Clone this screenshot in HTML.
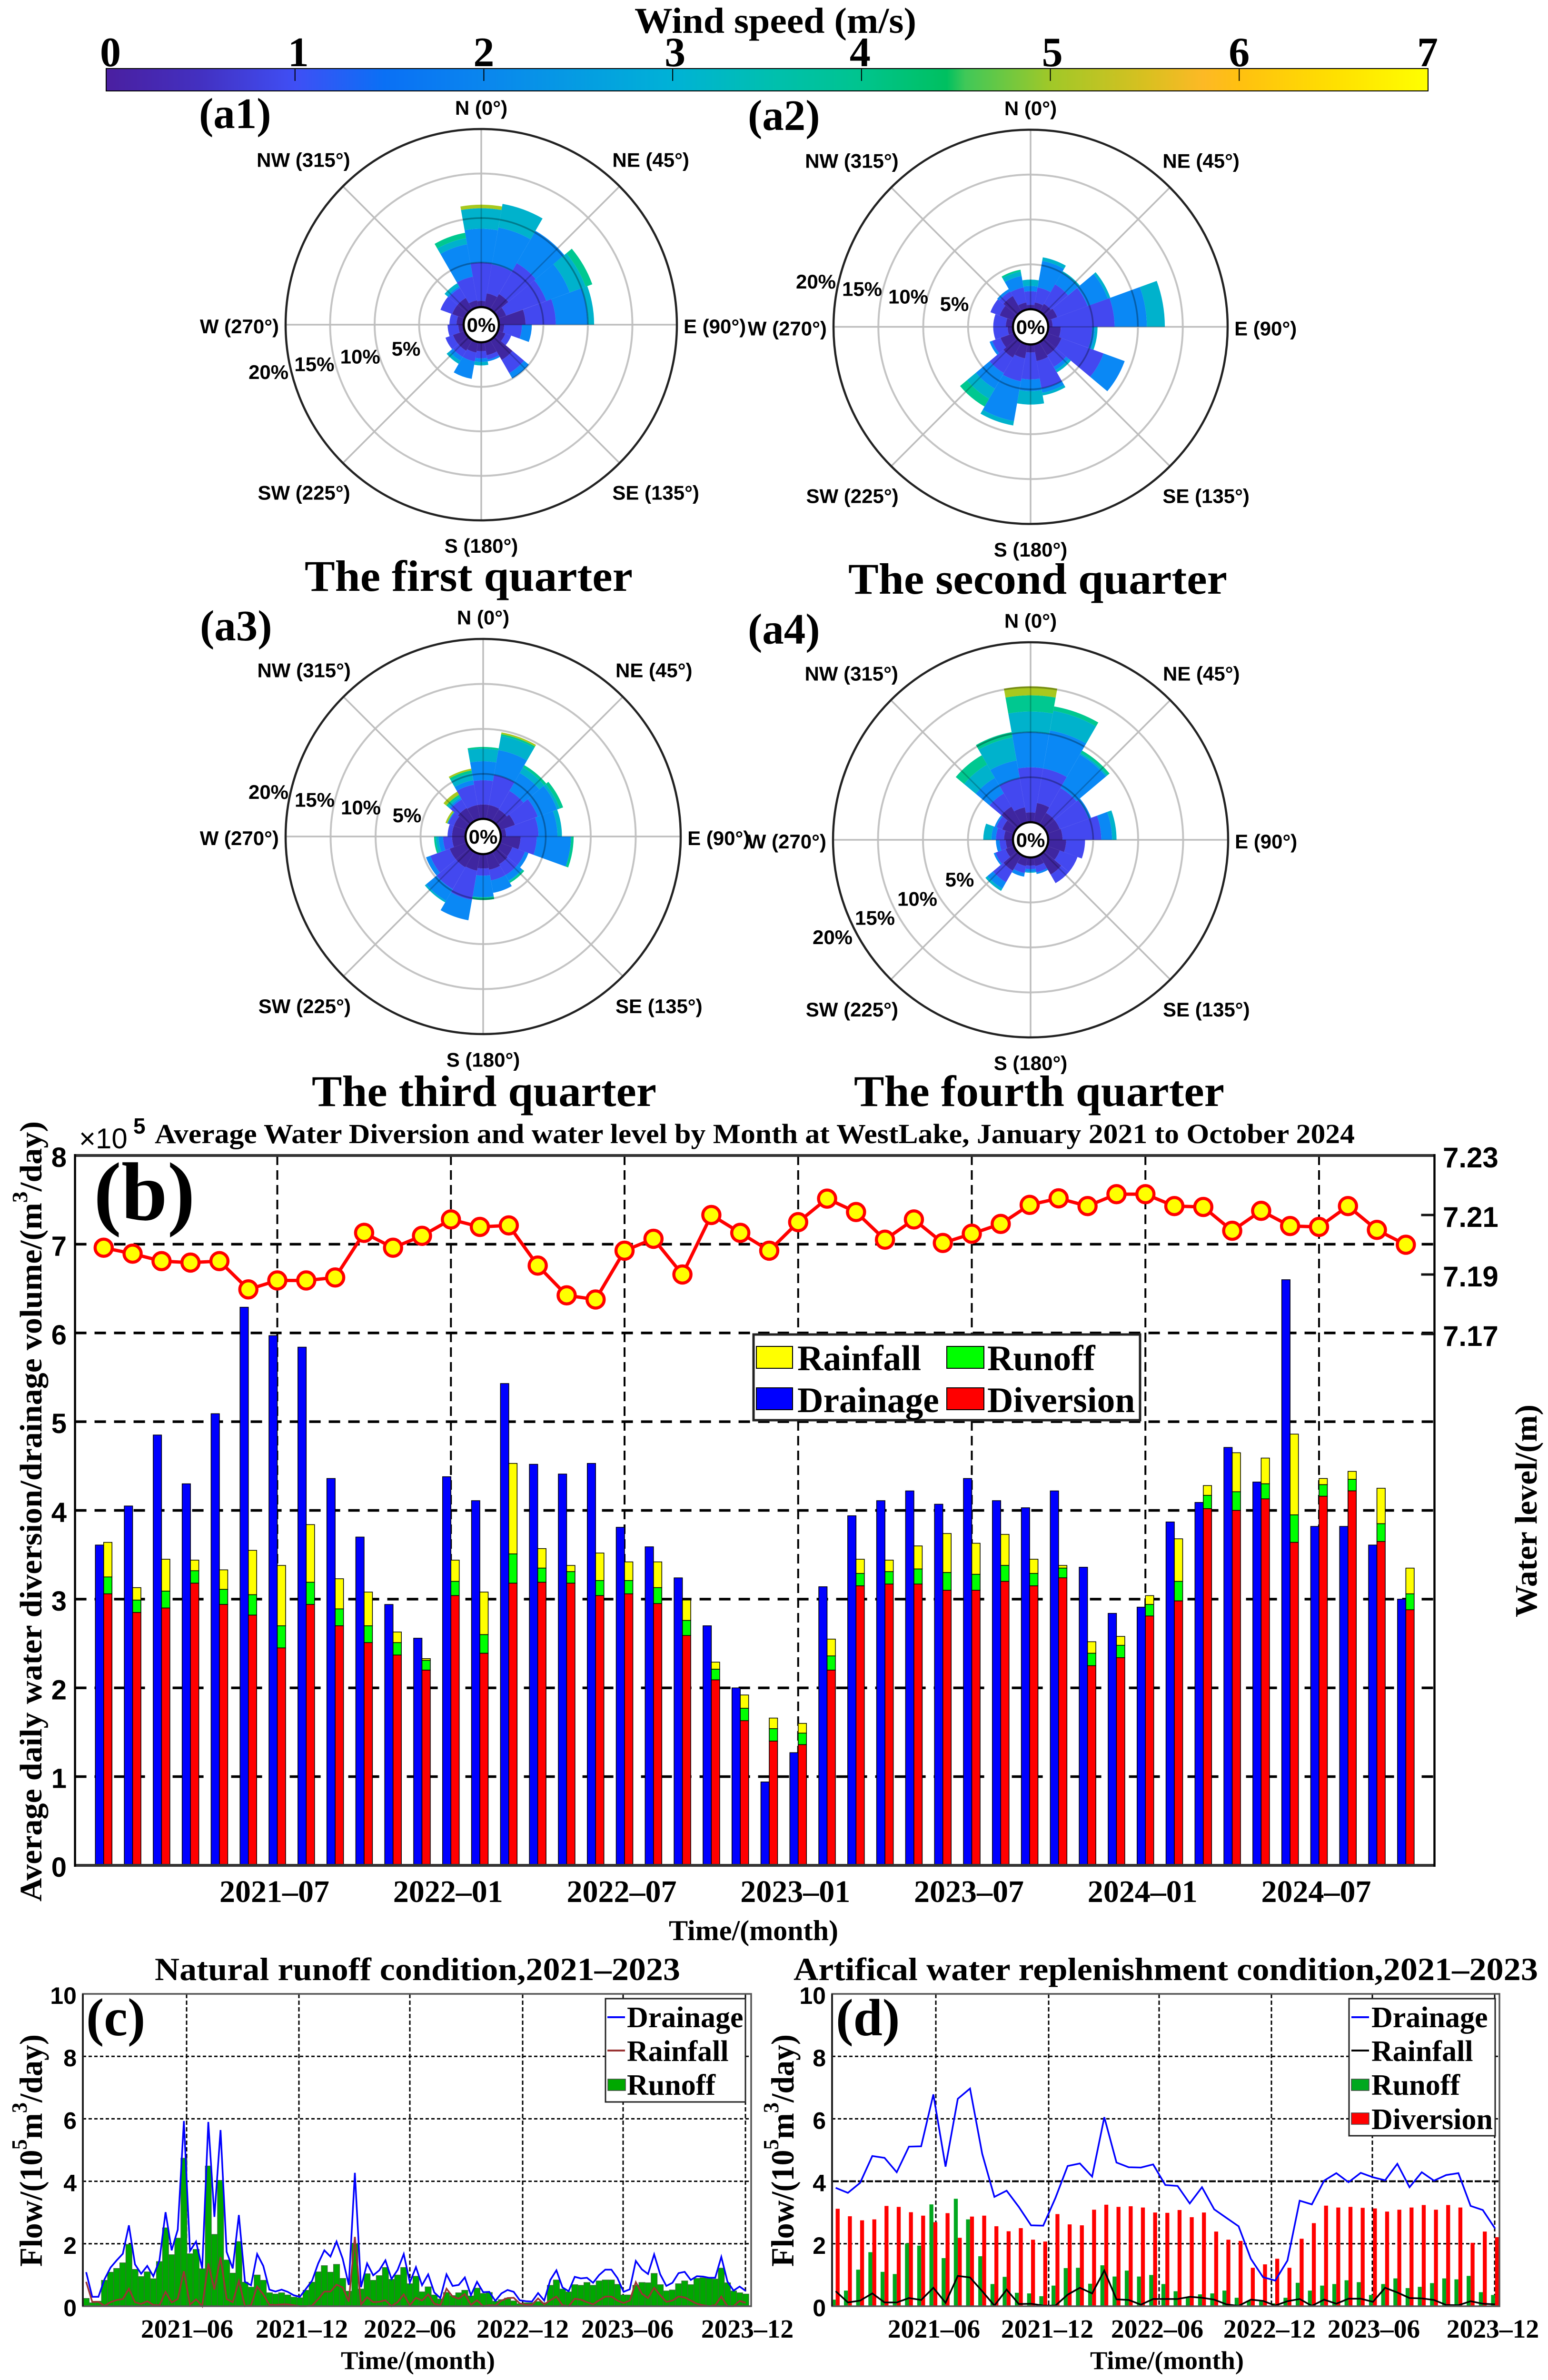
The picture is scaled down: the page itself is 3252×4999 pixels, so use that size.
<!DOCTYPE html>
<html lang="en">
<head>
<meta charset="utf-8">
<title>Wind roses and water balance at West Lake</title>
<style>
html,body{margin:0;padding:0;background:#fff;}
svg{display:block;}
.sf{font-family:"Liberation Serif",serif;font-weight:bold;fill:#000;}
.ss{font-family:"Liberation Sans",sans-serif;font-weight:bold;fill:#000;}
.sr{font-family:"Liberation Sans",sans-serif;font-weight:normal;fill:#000;}
</style>
</head>
<body>
<svg id="fig" xmlns="http://www.w3.org/2000/svg" width="3252" height="4999" viewBox="0 0 3252 4999">
<defs>
<linearGradient id="cbGrad" x1="0" x2="1" y1="0" y2="0">
<stop offset="0" stop-color="#4a1fa0"/>
<stop offset="0.07" stop-color="#4330c0"/>
<stop offset="0.143" stop-color="#3f4ff5"/>
<stop offset="0.21" stop-color="#0a70f5"/>
<stop offset="0.286" stop-color="#0a86ee"/>
<stop offset="0.429" stop-color="#00b2d6"/>
<stop offset="0.5" stop-color="#00bfb0"/>
<stop offset="0.571" stop-color="#00c48e"/>
<stop offset="0.636" stop-color="#00c060"/>
<stop offset="0.65" stop-color="#40c858"/>
<stop offset="0.714" stop-color="#a0c828"/>
<stop offset="0.786" stop-color="#d8c020"/>
<stop offset="0.83" stop-color="#fdb925"/>
<stop offset="0.857" stop-color="#ffc010"/>
<stop offset="0.93" stop-color="#ffe000"/>
<stop offset="1" stop-color="#ffff00"/>
</linearGradient>
</defs>
<rect x="0" y="0" width="3252" height="4999" fill="#fff"/>

<g id="colorbar">
<text class="sf" x="1333" y="69" font-size="76" textLength="592" lengthAdjust="spacingAndGlyphs">Wind speed (m/s)</text>
<rect x="223" y="144" width="2777" height="47" fill="url(#cbGrad)" stroke="#000" stroke-width="2"/>
</g>

<text class="sf" x="418" y="269" font-size="91">(a1)</text>
<text class="sf" x="1571" y="273" font-size="91">(a2)</text>
<text class="sf" x="420" y="1345" font-size="91">(a3)</text>
<text class="sf" x="1571" y="1352" font-size="91">(a4)</text>
<text class="sf" x="640" y="1241" font-size="92" textLength="689" lengthAdjust="spacingAndGlyphs">The first quarter</text>
<text class="sf" x="1782" y="1247" font-size="92" textLength="796" lengthAdjust="spacingAndGlyphs">The second quarter</text>
<text class="sf" x="655" y="2323" font-size="92" textLength="724" lengthAdjust="spacingAndGlyphs">The third quarter</text>
<text class="sf" x="1794" y="2323" font-size="92" textLength="778" lengthAdjust="spacingAndGlyphs">The fourth quarter</text>

<g id="roses"></g>

<g id="panelB"></g>
<text class="sf" x="325" y="2401" font-size="58" textLength="2521" lengthAdjust="spacingAndGlyphs">Average Water Diversion and water level by Month at WestLake, January 2021 to October 2024</text>
<text class="sr" x="166" y="2412" font-size="60">×10</text>
<text class="ss" x="280" y="2381" font-size="46">5</text>
<text class="sf" x="197" y="2562" font-size="174">(b)</text>
<text class="sf" font-size="66" transform="translate(87 3994) rotate(-90)" textLength="1639" lengthAdjust="spacingAndGlyphs">Average daily water diversion/drainage volume/(m<tspan font-size="46" dy="-30">3</tspan><tspan dy="30">/day)</tspan></text>
<text class="sf" font-size="66" transform="translate(3228 3397) rotate(-90)" textLength="447" lengthAdjust="spacingAndGlyphs">Water level/(m)</text>
<text class="sf" x="1405" y="4075" font-size="60" textLength="356" lengthAdjust="spacingAndGlyphs">Time/(month)</text>

<g>
<rect x="1583" y="2803" width="812" height="180" fill="#fff" stroke="#222" stroke-width="5"/>
<rect x="1589" y="2828" width="76" height="46" fill="#ffff00" stroke="#000" stroke-width="2"/>
<text class="sf" x="1675" y="2878" font-size="75.5">Rainfall</text>
<rect x="1989" y="2828" width="78" height="46" fill="#00ff00" stroke="#000" stroke-width="2"/>
<text class="sf" x="2074" y="2878" font-size="75.5">Runoff</text>
<rect x="1589" y="2915" width="76" height="46" fill="#0000ff" stroke="#000" stroke-width="2"/>
<text class="sf" x="1675" y="2966" font-size="75.5">Drainage</text>
<rect x="1989" y="2915" width="78" height="46" fill="#ff0000" stroke="#000" stroke-width="2"/>
<text class="sf" x="2074" y="2966" font-size="75.5">Diversion</text>
</g>

<g id="panelC"></g>
<text class="sf" x="325" y="4159" font-size="68" textLength="1104" lengthAdjust="spacingAndGlyphs">Natural runoff condition,2021–2023</text>
<text class="sf" x="181" y="4275" font-size="112">(c)</text>
<text class="sf" font-size="68" transform="translate(88 4761) rotate(-90)" textLength="488" lengthAdjust="spacingAndGlyphs">Flow/(10<tspan font-size="46" dy="-32">5</tspan><tspan dy="32">m</tspan><tspan font-size="46" dy="-32">3</tspan><tspan dy="32">/day)</tspan></text>
<text class="sf" x="716" y="4976" font-size="54.5" textLength="324" lengthAdjust="spacingAndGlyphs">Time/(month)</text>
<g>
<rect x="1272" y="4198" width="294" height="217" fill="#fff" stroke="#222" stroke-width="3"/>
<line x1="1276" x2="1313" y1="4237" y2="4237" stroke="#0000ff" stroke-width="4"/>
<text class="sf" x="1317" y="4258" font-size="62">Drainage</text>
<line x1="1276" x2="1313" y1="4307" y2="4307" stroke="#993333" stroke-width="4"/>
<text class="sf" x="1317" y="4329" font-size="62">Rainfall</text>
<rect x="1277" y="4367" width="37" height="24" fill="#00a800" stroke="#444" stroke-width="1.5"/>
<text class="sf" x="1317" y="4400" font-size="62">Runoff</text>
</g>

<g id="panelD"></g>
<text class="sf" x="1667" y="4159" font-size="68" textLength="1564" lengthAdjust="spacingAndGlyphs">Artifical water replenishment condition,2021–2023</text>
<text class="sf" x="1756" y="4275" font-size="110">(d)</text>
<text class="sf" font-size="68" transform="translate(1667 4761) rotate(-90)" textLength="488" lengthAdjust="spacingAndGlyphs">Flow/(10<tspan font-size="46" dy="-32">5</tspan><tspan dy="32">m</tspan><tspan font-size="46" dy="-32">3</tspan><tspan dy="32">/day)</tspan></text>
<text class="sf" x="2290" y="4976" font-size="54.5" textLength="323" lengthAdjust="spacingAndGlyphs">Time/(month)</text>
<g>
<rect x="2834" y="4198" width="307" height="288" fill="#fff" stroke="#222" stroke-width="3"/>
<line x1="2839" x2="2876" y1="4237" y2="4237" stroke="#0000ff" stroke-width="4"/>
<text class="sf" x="2881" y="4258" font-size="62">Drainage</text>
<line x1="2839" x2="2876" y1="4307" y2="4307" stroke="#000" stroke-width="4"/>
<text class="sf" x="2881" y="4329" font-size="62">Rainfall</text>
<rect x="2839" y="4367" width="37" height="24" fill="#00a81f" stroke="#444" stroke-width="1.5"/>
<text class="sf" x="2881" y="4400" font-size="62">Runoff</text>
<rect x="2839" y="4438" width="37" height="24" fill="#ff0000" stroke="#444" stroke-width="1.5"/>
<text class="sf" x="2881" y="4472" font-size="62">Diversion</text>
</g>
</svg>

<script>
// ---------- colorbar ----------
const cbTicks = ["0","1","2","3","4","5","6","7"];

// ---------- wind roses: cumulative frequency (%) per speed bin, per 20-degree sector ----------
const sectorAngles = [0,20,40,60,80,100,120,140,160,180,200,220,240,260,280,300,320,340];
const speedBinColors = ["#3f26a0","#4348f0","#0a88f5","#00b2cc","#00c890","#a8c81e"];
const roseQ1 = [
 [.7,5.0,8.8,11.1,11.1,11.5],[1.6,4.9,9.1,11.8],[2.0,6.0,10.2],[1.0,5.8,8.6,10.5,11.3],[3.0,6.4,10.0,10.7],
 [.6,2.6,3.7],[.9,1.6],[2.6,4.3,5.0],[1.5,2.0,2.2],[1.0,1.8,2.2,2.6],[1.2,2.2,4.2],[1.4,2.2,2.7,3.1],
 [1.4,2.3],[.6,1.8],[.8,1.6],[1.5,2.9],[1.5,2.8,3.0,3.4],[.8,3.5,7.2,7.9,8.5]
];
const roseQ2 = [
 [.5,2.0,2.6,3.3],[.8,2.5,5.5,5.9],[1.0,3.5,5.0,5.2],[1.2,4.8,7.2,7.5],[.5,7.4,11.0,13.0],
 [1.4,4.9,5.2,5.5],[1.7,6.7,9.2],[1.7,3.2,3.6,3.9],[1.9,5.0,5.5,5.8],[.9,3.9,5.2,6.7],[1.6,4.2,8.7,9.2],[2.0,4.0,6.0,7.3,8.3],
 [1.6,2.6,2.9],[.6,2.2],[.8,2.2],[1.7,2.8],[2.0,2.6,2.9],[.8,2.5,3.8,4.3,4.5]
];
const roseQ3 = [
 [1.6,4.3,6.4,7.8,8.0],[1.6,5.0,7.8,9.4,9.6,9.8],[1.5,3.9,6.2,6.9,7.2],[1.8,4.5,6.8,7.1,7.5],[.6,4.2,6.3,6.8],
 [2.2,4.0,7.8,7.8,8.1],[1.5,3.0,3.4],[1.6,3.0,3.7,3.8,4.0],[1.8,3.0,4.4],[1.6,2.4,4.8,4.8,5.1],[1.9,5.2,7.5],[2.0,4.8,6.3,6.5],
 [2.0,4.3,4.8],[1.5,2.5,3.0,3.3,3.5],[1.5,2.0],[1.5,2.2,2.2,2.3,2.3,2.5],[1.7,2.8,3.0,3.2,3.4,3.8],[1.6,3.9,4.4,5.2,5.5,5.7]
];
const roseQ4 = [
 [1.1,6.1,10.0,12.3,14.1,15.1],[2.2,6.1,10.4,12.6,13.1],[1.5,4.7,9.0,9.2,9.5],[1.5,4.9,5.2],[1.6,5.9,7.1,7.6],
 [2.0,4.1],[1.5,3.6],[2.5,3.6],[1.0,1.7,1.9],[.9,1.3,1.6,1.7],[1.0,1.8,2.2],[2.0,3.5,4.3,4.6],
 [1.0,2.2,2.4],[.8,1.5,1.9],[1.0,1.9,2.4,3.3],[1.4,2.1,2.3],[2.3,4.0,6.0,7.7,8.9],[1.7,5.0,7.0,9.6,10.2]
];
const dirLabels = ["N (0°)","NE (45°)","E (90°)","SE (135°)","S (180°)","SW (225°)","W (270°)","NW (315°)"];
const pctLabels = ["5%","10%","15%","20%"];

// ---------- panel b ----------
const monthTicksB = ["2021–07","2022–01","2022–07","2023–01","2023–07","2024–01","2024–07"];
const leftTicksB = [0,1,2,3,4,5,6,7,8];
const rightTicksB = ["7.23","7.21","7.19","7.17"];
const drainageB = [3.61,4.05,4.85,4.30,5.09,6.29,5.97,5.84,4.36,3.70,2.94,2.56,4.38,4.11,5.43,4.52,4.41,4.53,3.81,3.59,3.24,2.70,2.00,.94,1.27,3.14,3.94,4.11,4.22,4.07,4.36,4.11,4.03,4.22,3.36,2.84,2.91,3.87,4.09,4.71,4.32,6.60,3.82,3.82,3.61,3.00];
const diversionB = [3.06,2.85,2.90,3.18,2.94,2.82,2.45,2.94,2.70,2.51,2.37,2.20,3.04,2.39,3.18,3.19,3.18,3.04,3.06,2.95,2.59,2.09,1.63,1.40,1.36,2.20,3.15,3.17,3.17,3.10,3.10,3.20,3.15,3.24,2.25,2.34,2.81,2.98,4.02,4.00,4.13,3.64,4.16,4.22,3.65,2.88];
const runoffTopB = [3.25,2.99,3.09,3.32,3.11,3.05,2.70,3.19,2.89,2.70,2.51,2.31,3.20,2.60,3.51,3.35,3.31,3.21,3.21,3.13,2.76,2.21,1.77,1.54,1.49,2.36,3.29,3.31,3.34,3.30,3.28,3.38,3.29,3.35,2.39,2.48,2.94,3.20,4.17,4.21,4.30,3.95,4.29,4.35,3.85,3.06];
const rainfallTopB = [3.64,3.13,3.45,3.44,3.33,3.55,3.38,3.84,3.23,3.08,2.63,2.33,3.44,3.08,4.53,3.57,3.38,3.52,3.42,3.42,2.99,2.29,1.92,1.66,1.60,2.55,3.45,3.44,3.60,3.74,3.63,3.73,3.45,3.38,2.52,2.58,3.04,3.68,4.28,4.65,4.59,4.86,4.36,4.44,4.25,3.35];
const waterLevelB = [7.199,7.197,7.1945,7.194,7.1945,7.185,7.188,7.188,7.189,7.204,7.199,7.203,7.2085,7.206,7.2065,7.193,7.183,7.1816,7.198,7.202,7.190,7.210,7.204,7.198,7.2076,7.2155,7.211,7.2017,7.2085,7.2006,7.2037,7.207,7.2134,7.2156,7.213,7.217,7.217,7.213,7.2127,7.2047,7.2114,7.2063,7.206,7.213,7.205,7.200];

// ---------- panel c (dekad series) ----------
const monthTicksC = ["2021–06","2021–12","2022–06","2022–12","2023–06","2023–12"];
const flowTicks = [0,2,4,6,8,10];
const runoffC = [.25,.11,.16,.83,1.09,1.21,1.39,1.98,1.18,.95,1.10,.88,1.43,2.51,1.65,2.18,4.74,1.68,1.82,1.20,4.49,2.30,4.03,1.48,1.06,2.07,.77,.61,1.0,.83,.43,.39,.43,.36,.29,.27,.51,.77,1.10,1.30,1.09,1.34,.89,.48,2.0,.55,1.04,.83,.98,1.24,.86,1.0,1.24,.72,.96,.46,.62,.36,.23,.44,.34,.43,.51,.33,.58,.41,.44,.16,.21,.26,.17,.08,.11,.11,.15,.11,.67,.84,.55,.46,.69,.67,.76,.67,.81,.84,.84,.70,.36,.36,.67,.76,.75,1.05,.69,.49,.52,.72,.81,.69,.89,.91,.89,.87,1.22,.75,.49,.43,.39];
const drainageC = [1.09,.30,.30,.86,1.24,1.47,1.68,2.59,1.34,1.04,1.29,.96,1.47,3.01,1.79,2.45,5.93,1.77,2.07,1.21,5.90,2.86,5.64,1.74,1.21,2.92,.78,.67,1.67,1.29,.53,.47,.53,.46,.35,.30,.56,.82,1.37,1.79,1.59,2.07,1.52,.68,4.27,.61,1.37,.99,1.15,1.47,.87,1.16,1.67,.76,1.25,.67,1.02,.44,.26,1.02,.65,.68,.92,.35,.78,.45,.46,.17,.41,.52,.46,.19,.16,.15,.42,.18,.84,1.15,.60,.48,.94,.89,.91,.75,1.0,1.17,1.17,.90,.46,.54,1.45,1.18,1.03,1.66,1.02,.65,.75,1.06,1.10,.84,.96,.95,.91,.91,1.58,.79,.50,.63,.49];
const rainfallC = [.78,.14,.14,.01,.13,.20,.23,.56,.13,.07,.16,.04,.03,.46,.12,.23,1.12,.05,.22,0,1.37,.53,1.57,.23,.13,.81,0,.03,.63,.38,.05,.04,.06,.06,.03,0,0,.02,.23,.47,.47,.69,.60,.15,2.22,.05,.29,.13,.14,.19,0,.13,.38,.03,.27,.18,.38,.08,.03,.56,.31,.24,.39,.04,.19,0,.03,.02,.18,.26,.27,.09,.05,.05,.25,.06,.19,.31,.03,0,.24,.21,.13,.06,.19,.31,.31,.18,.10,.18,.77,.40,.26,.59,.35,.14,.18,.31,.28,.18,.08,.03,0,.03,.31,0,0,.17,.11];

// ---------- panel d ----------
const monthTicksD = ["2021–06","2021–12","2022–06","2022–12","2023–06","2023–12"];
const diversionD = [3.12,2.88,2.75,2.78,3.21,3.18,3.01,2.90,2.69,2.98,2.19,2.87,2.90,2.56,2.40,2.50,2.13,2.07,2.95,2.62,2.59,3.09,3.25,3.18,3.20,3.16,3.0,2.99,3.08,2.85,3.00,2.39,2.13,2.09,1.23,1.34,1.52,1.23,2.16,2.66,3.22,3.16,3.18,3.15,3.13,3.03,3.09,3.16,3.24,3.09,3.24,3.16,2.03,2.39,2.21];
const runoffD = [.21,.50,1.17,1.73,1.10,1.03,2.01,1.94,3.26,1.54,3.44,2.78,1.60,.71,.94,.43,.41,.32,.66,1.22,1.23,.72,1.31,.95,1.14,.95,1.0,.71,.48,.29,.38,.41,.50,.27,.18,.18,.09,.27,.75,.50,.66,.71,.83,.77,.36,.71,.89,.58,.62,.74,.89,.86,.97,.45,.36];
const drainageD = [3.79,3.63,3.95,4.81,4.75,4.29,5.11,5.12,6.78,4.47,6.64,6.97,4.88,3.50,3.70,3.18,2.59,2.58,3.47,4.49,4.57,4.15,6.05,4.60,4.45,4.44,4.54,3.88,3.85,3.29,3.81,3.10,2.83,2.56,1.52,.93,.82,1.46,3.38,3.26,4.02,4.26,3.97,4.27,4.13,4.03,4.56,3.81,4.29,4.02,4.20,4.26,3.21,3.08,2.49];
const rainfallD = [.48,.12,.18,.41,.12,.12,.26,.20,.59,.11,.97,.92,.48,.02,.53,.07,.08,.02,.02,.37,.59,.41,1.14,.22,.20,.05,.23,.23,.23,.30,.27,.21,.06,.01,.21,.17,.02,.16,.23,.01,.21,.08,.24,.24,.14,.59,.44,.26,.25,.20,.04,.03,.16,.08,.06];

// ---------- helpers ----------
const NS = "http://www.w3.org/2000/svg";
function make(tag, attrs, parent){
  const el = document.createElementNS(NS, tag);
  for (const k in attrs) el.setAttribute(k, attrs[k]);
  parent.appendChild(el);
  return el;
}
function polyPoints(xs, ys){
  return xs.map((x,i)=>x.toFixed(1)+","+ys[i].toFixed(1)).join(" ");
}

// ---------- colorbar ticks ----------
const cbG = document.getElementById("colorbar");
const cbX = v => 223 + v * 2777 / 7;
const cbNudge = [9,7,0,5,-3,4,0,-1];
cbTicks.forEach((t,i)=>{
  const tk = make("line",{x1:cbX(+t),x2:cbX(+t),y1:144,y2:170,stroke:"#000","stroke-width":2},cbG);
  
  
  const lb = make("text",{x:cbX(+t)+cbNudge[i],y:139,"text-anchor":"middle","font-size":88,class:"sf"},cbG);
  lb.textContent = t;
  
  
});

// ---------- wind roses ----------
const rosesG = document.getElementById("roses");
let roseCounter = 0;
function drawRose(values, cx, cy, R, pctX, pctY, pctDx, pctDy){
  roseCounter += 1;
  const g = make("g",{},rosesG);
  
  
  const clip = make("clipPath",{id:"roseClip"+roseCounter},g);
  
  
  const rad = p => 37 + (R - 37) * p / 20;
  const pt = (r,a) => { const t = a*Math.PI/180; return [cx + r*Math.sin(t), cy - r*Math.cos(t)]; };
  for (let p=5;p<=15;p+=5){
    const ring = make("circle",{cx:cx,cy:cy,r:rad(p),fill:"none",stroke:"#c4c4c4","stroke-width":4},g);
    
    
  }
  for (let a=0;a<360;a+=45){
    const [x,y] = pt(R,a);
    const sp = make("line",{x1:cx,y1:cy,x2:x,y2:y,stroke:"#bdbdbd","stroke-width":3.5},g);
    
    
  }
  values.forEach((cum,s)=>{
    const a0 = sectorAngles[s]-10, a1 = sectorAngles[s]+10;
    cum.forEach((hi,b)=>{
      const lo = b===0 ? 0 : cum[b-1];
      if (hi<=lo) return;
      const r0 = rad(lo), r1 = rad(hi);
      const p1=pt(r0,a0), p2=pt(r1,a0), p3=pt(r1,a1), p4=pt(r0,a1);
      const d = "M"+p1[0].toFixed(1)+" "+p1[1].toFixed(1)+"L"+p2[0].toFixed(1)+" "+p2[1].toFixed(1)+
        "A"+r1.toFixed(1)+" "+r1.toFixed(1)+" 0 0 1 "+p3[0].toFixed(1)+" "+p3[1].toFixed(1)+
        "L"+p4[0].toFixed(1)+" "+p4[1].toFixed(1)+
        "A"+r0.toFixed(1)+" "+r0.toFixed(1)+" 0 0 0 "+p1[0].toFixed(1)+" "+p1[1].toFixed(1)+"Z";
      const w = make("path",{d:d,fill:speedBinColors[b],stroke:"none"},g);
      
      
      const cw = make("path",{d:d},clip);
      
      
    });
  });
  const overlay = make("g",{"clip-path":"url(#roseClip"+roseCounter+")"},g);
  
  
  for (let p=5;p<=15;p+=5){
    const ring2 = make("circle",{cx:cx,cy:cy,r:rad(p),fill:"none",stroke:"#000","stroke-opacity":.3,"stroke-width":3.5},overlay);
    
    
  }
  for (let a=0;a<360;a+=45){
    const [x2,y2] = pt(R,a);
    const sp2 = make("line",{x1:cx,y1:cy,x2:x2,y2:y2,stroke:"#000","stroke-opacity":.22,"stroke-width":3},overlay);
    
    
  }
  const outer = make("circle",{cx:cx,cy:cy,r:R,fill:"none",stroke:"#222","stroke-width":4.5},g);
  
  
  const hole = make("circle",{cx:cx,cy:cy,r:37,fill:"#fff",stroke:"#000","stroke-width":4.5},g);
  
  
  const zero = make("text",{x:cx,y:cy+15,"text-anchor":"middle","font-size":42,class:"ss"},g);
  zero.textContent = "0%";
  
  
  const fx = [0,.67,1.034,.67,0,-.67,-1.034,-.67];
  const fy = [-1.117,-.85,0,.85,1.122,.85,0,-.85];
  const anch = ["middle","start","start","start","middle","end","end","end"];
  dirLabels.forEach((t,i)=>{
    const lb = make("text",{x:cx+fx[i]*R,y:cy+fy[i]*R+18,"text-anchor":anch[i],"font-size":42,class:"ss"},g);
    lb.textContent = t;
    
    
  });
  pctLabels.forEach((t,i)=>{
    const lb = make("text",{x:pctX+pctDx*i,y:pctY+pctDy*i,"text-anchor":"middle","font-size":42,class:"ss"},g);
    lb.textContent = t;
    
    
  });
}
drawRose(roseQ1,1011,682,411,853,747,-96.3,16.3);
drawRose(roseQ2,2165,686.5,414,2005,653,-97,-15.7);
drawRose(roseQ3,1015,1757,415,855,1727,-97,-16.3);
drawRose(roseQ4,2165,1764,415,2016,1862,-89,40.3);

// ---------- panel b ----------
const gB = document.getElementById("panelB");
const bLeft=157.6, bRight=3013.5, bTop=2427, bBot=3918;
const xB = i => 217.8 + 60.79*i;
const yB = v => bBot - v*(bBot-bTop)/8;
const yLevel = v => bTop + (7.23-v)/0.02*125;

monthTicksB.forEach((t,i)=>{
  const idx = (i+1)*6;
  const gl = make("line",{x1:xB(idx),x2:xB(idx),y1:bTop,y2:bBot,stroke:"#000","stroke-width":4,"stroke-dasharray":"20 11"},gB);
  
  
  const lb = make("text",{x:xB(idx)-6,y:3995,"text-anchor":"middle","font-size":66,class:"sf"},gB);
  lb.textContent = t;
  
  
});
leftTicksB.forEach(v=>{
  if (v>0 && v<8){
    const gl = make("line",{x1:bLeft,x2:bRight,y1:yB(v),y2:yB(v),stroke:"#000","stroke-width":5.5,"stroke-dasharray":"24 17"},gB);
    
    
  }
  const lb = make("text",{x:140,y:yB(v)+24,"text-anchor":"end","font-size":58,class:"ss"},gB);
  lb.textContent = String(v);
  
  
});
rightTicksB.forEach(t=>{
  const v = parseFloat(t);
  const tk = make("line",{x1:bRight-28,x2:bRight,y1:yLevel(v),y2:yLevel(v),stroke:"#111","stroke-width":5},gB);
  
  
  const lb = make("text",{x:3031,y:yLevel(v)+25,"font-size":60,class:"ss"},gB);
  lb.textContent = t;
  
  
});
const barW = 17.5;
drainageB.forEach((v,i)=>{
  const b = make("rect",{x:xB(i)-barW,y:yB(v),width:barW,height:bBot-yB(v),fill:"#0000ff",stroke:"#000","stroke-width":1.5},gB);
  
  
  const ry = make("rect",{x:xB(i),y:yB(rainfallTopB[i]),width:barW,height:yB(runoffTopB[i])-yB(rainfallTopB[i]),fill:"#ffff00",stroke:"#000","stroke-width":1.5},gB);
  
  
  const ro = make("rect",{x:xB(i),y:yB(runoffTopB[i]),width:barW,height:yB(diversionB[i])-yB(runoffTopB[i]),fill:"#00ff00",stroke:"#000","stroke-width":1.5},gB);
  
  
  const rd = make("rect",{x:xB(i),y:yB(diversionB[i]),width:barW,height:bBot-yB(diversionB[i]),fill:"#ff0000",stroke:"#000","stroke-width":1.5},gB);
  
  
});
const lvlLine = make("polyline",{points:polyPoints(waterLevelB.map((v,i)=>xB(i)),waterLevelB.map(v=>yLevel(v))),fill:"none",stroke:"#ff0000","stroke-width":7},gB);


waterLevelB.forEach((v,i)=>{
  const m = make("circle",{cx:xB(i),cy:yLevel(v),r:18,fill:"#ffff00",stroke:"#ff0000","stroke-width":6.5},gB);
  
  
});
const bFrame = make("path",{d:"M"+bLeft+" "+bTop+"H"+bRight+"M"+bLeft+" "+bBot+"H"+bRight,fill:"none",stroke:"#333","stroke-width":6},gB);


const bSides = make("path",{d:"M"+bLeft+" "+(bTop-3)+"V"+(bBot+3)+"M"+bRight+" "+(bTop-3)+"V"+(bBot+3),fill:"none",stroke:"#000","stroke-width":4.5},gB);



// ---------- panels c / d shared ----------
const flowTop=4188, flowBot=4844;
const yFlow = v => flowBot - v*(flowBot-flowTop)/10;
function flowAxes(g, left, right, grids, labels, labelCenters, tickRight){
  flowTicks.forEach(v=>{
    if (v>0 && v<10){
      const heavy = (tickRight && v===4);
      const gl = make("line",{x1:left,x2:right,y1:yFlow(v),y2:yFlow(v),stroke:"#000","stroke-width":heavy?4:3,"stroke-dasharray":heavy?"14 4":"7 5"},g);
      
      
    }
    const lb = make("text",{x:left-13,y:yFlow(v)+21,"text-anchor":"end","font-size":50,class:"ss"},g);
    lb.textContent = String(v);
    
    
  });
  grids.forEach((x,i)=>{
    const gl = make("line",{x1:x,x2:x,y1:flowTop,y2:flowBot,stroke:"#000","stroke-width":3,"stroke-dasharray":"9 5"},g);
    
    
    const lb = make("text",{x:labelCenters[i],y:4910,"text-anchor":"middle","font-size":55.5,class:"sf"},g);
    lb.textContent = labels[i];
    
    
  });
}
function flowFrame(g,left,right){
  const fr = make("rect",{x:left,y:flowTop,width:right-left,height:flowBot-flowTop,fill:"none",stroke:"#555","stroke-width":3.5},g);
  
  
  const lf = make("line",{x1:left,x2:left,y1:flowTop,y2:flowBot,stroke:"#222","stroke-width":4},g);
  
  
}

// ---------- panel c ----------
const gC = document.getElementById("panelC");
const xC = i => 181 + 12.83*i;
flowAxes(gC,174,1578,[392,628,861,1098,1309,1566],monthTicksC,[393,634,861,1098,1318,1570],false);
runoffC.forEach((v,i)=>{
  const b = make("rect",{x:xC(i)-6.4,y:yFlow(v),width:12.83,height:flowBot-yFlow(v),fill:"#00a800",stroke:"#3a6a3a","stroke-width":1.2},gC);
  
  
});
const cD = make("polyline",{points:polyPoints(drainageC.map((v,i)=>xC(i)),drainageC.map(yFlow)),fill:"none",stroke:"#0000ff","stroke-width":3.5},gC);


const cR = make("polyline",{points:polyPoints(rainfallC.map((v,i)=>xC(i)),rainfallC.map(yFlow)),fill:"none",stroke:"#993333","stroke-width":3.5},gC);


flowFrame(gC,174,1578);

// ---------- panel d ----------
const gD = document.getElementById("panelD");
const xD = i => 1755.6 + 25.65*i;
flowAxes(gD,1748,3150,[1966,2203,2435,2671,2883,3140],monthTicksD,[1962,2200,2431,2667,2886,3136],true);
diversionD.forEach((v,i)=>{
  const gb = make("rect",{x:xD(i)-8.3,y:yFlow(runoffD[i]),width:8.3,height:flowBot-yFlow(runoffD[i]),fill:"#00a81f",stroke:"none"},gD);
  
  
  const rb = make("rect",{x:xD(i),y:yFlow(v),width:8.3,height:flowBot-yFlow(v),fill:"#ff0000",stroke:"none"},gD);
  
  
});
const dD = make("polyline",{points:polyPoints(drainageD.map((v,i)=>xD(i)),drainageD.map(yFlow)),fill:"none",stroke:"#0000ff","stroke-width":3.5},gD);


const dR = make("polyline",{points:polyPoints(rainfallD.map((v,i)=>xD(i)),rainfallD.map(yFlow)),fill:"none",stroke:"#000","stroke-width":3.5},gD);


flowFrame(gD,1748,3150);
</script>
</body>
</html>
